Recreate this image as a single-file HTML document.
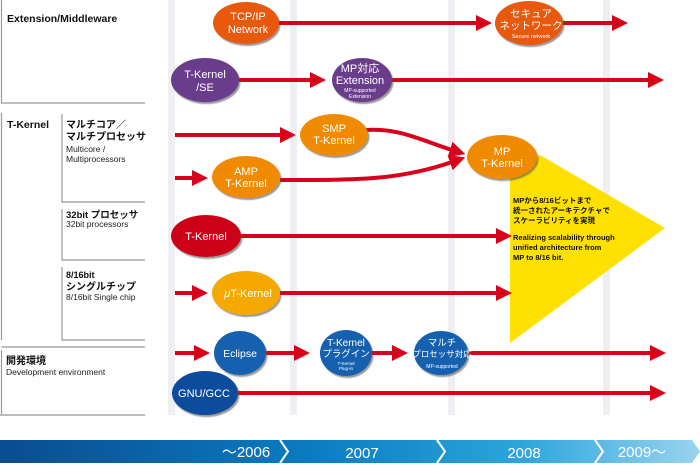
<!DOCTYPE html>
<html><head><meta charset="utf-8"><style>
html,body{margin:0;padding:0;background:#fff;width:700px;height:475px;overflow:hidden}
svg{display:block}
text{font-family:"Liberation Sans","Noto Sans CJK JP",sans-serif}
</style></head><body>
<svg width="700" height="475" viewBox="0 0 700 475" xmlns="http://www.w3.org/2000/svg">
<defs>
<linearGradient id="tl" x1="0" x2="1" y1="0" y2="0">
<stop offset="0" stop-color="#0a4c90"/><stop offset="0.45" stop-color="#0b7cc2"/><stop offset="0.75" stop-color="#2ea6dc"/><stop offset="1" stop-color="#9ad4f0"/>
</linearGradient>
<marker id="ah" markerWidth="4" markerHeight="4" refX="0.5" refY="2" orient="auto" markerUnits="strokeWidth"><path d="M0,0 L4,2 L0,4 z" fill="#d9001b"/></marker>
<filter id="sh"><feDropShadow dx="1.5" dy="2" stdDeviation="0.6" flood-color="#555" flood-opacity="0.6"/></filter>
</defs>
<g fill="#eeeff2">
<rect x="168" y="0" width="7" height="415"/><rect x="290" y="0" width="7" height="415"/>
<rect x="448" y="0" width="7" height="415"/><rect x="603" y="0" width="7" height="415"/>
</g>
<g stroke="#999" stroke-width="1.2" fill="none">
<path d="M1.5,0 V103 H145"/>
<path d="M1.5,113 V340"/>
<path d="M1.5,347 H145"/>
<path d="M1.5,350 V414"/>
<path d="M62,114 V202 H145"/>
<path d="M62,209 V260 H145"/>
<path d="M62,267 V340 H145"/>
</g>
<rect x="0" y="414" width="145" height="2" fill="#bbb"/>
<g font-weight="bold" fill="#111">
<text x="7" y="22" font-size="10.5">Extension/Middleware</text>
<text x="7" y="128" font-size="10.5">T-Kernel</text>
<text x="66" y="128" font-size="10">マルチコア／</text>
<text x="66" y="140" font-size="10">マルチプロセッサ</text>
<text x="66" y="218" font-size="9.5">32bit プロセッサ</text>
<text x="66" y="278" font-size="9">8/16bit</text>
<text x="66" y="290" font-size="10">シングルチップ</text>
<text x="6" y="364" font-size="10">開発環境</text>
</g>
<g fill="#222" font-size="8.5">
<text x="66" y="152">Multicore /</text>
<text x="66" y="162">Multiprocessors</text>
<text x="66" y="227">32bit processors</text>
<text x="66" y="300">8/16bit Single chip</text>
<text x="6" y="375">Development environment</text>
</g>
<polygon points="510,172 540,155 665,228 510,343" fill="#ffe000"/>
<g stroke="#d9001b" stroke-width="4" fill="none" marker-end="url(#ah)">
<path d="M278,23 H478"/>
<path d="M562,23 H614"/>
<path d="M238,80 H312"/>
<path d="M390,80 H650"/>
<path d="M175,135 H282"/>
<path d="M175,178 H194"/>
<path d="M366,130 C400,128 420,140 452,150"/>
<path d="M280,180 C360,180 400,180 452,162"/>
<path d="M240,236 H498"/>
<path d="M175,293 H194"/>
<path d="M280,293 H498"/>
<path d="M175,353 H196"/>
<path d="M266,353 H296"/>
<path d="M372,353 H394"/>
<path d="M467,353 H652"/>
<path d="M238,393 H652"/>
</g>
<g filter="url(#sh)">
<ellipse cx="246" cy="23" rx="33" ry="21" fill="#e8580c"/>
<ellipse cx="529" cy="23" rx="34" ry="22" fill="#e8580c"/>
<ellipse cx="205" cy="80" rx="34" ry="22" fill="#6a3d8c"/>
<ellipse cx="362" cy="80" rx="30" ry="22" fill="#6a3d8c"/>
<ellipse cx="334" cy="135" rx="34" ry="21" fill="#f08a00"/>
<ellipse cx="246" cy="177" rx="34" ry="21" fill="#f08a00"/>
<ellipse cx="502" cy="157" rx="35" ry="22" fill="#f08a00"/>
<ellipse cx="206" cy="236" rx="35" ry="21" fill="#cc0012"/>
<ellipse cx="246" cy="293" rx="34" ry="22" fill="#f5a800"/>
<ellipse cx="240" cy="353" rx="26" ry="22" fill="#1560b0"/>
<ellipse cx="346" cy="353" rx="26" ry="23" fill="#1560b0"/>
<ellipse cx="441" cy="353" rx="27" ry="22" fill="#1560b0"/>
<ellipse cx="205" cy="393" rx="33" ry="22" fill="#0d4c9c"/>
</g>
<g fill="#fff" text-anchor="middle" font-size="11">
<text x="248" y="20">TCP/IP</text><text x="248" y="33">Network</text>
<text x="531" y="17" font-size="10.5">セキュア</text><text x="531" y="29" font-size="10.5">ネットワーク</text>
<text x="531" y="38" font-size="5.5">Secure network</text>
<text x="205" y="78">T-Kernel</text><text x="205" y="91">/SE</text>
<text x="360" y="72">MP対応</text><text x="360" y="84">Extension</text>
<text x="360" y="92" font-size="5">MP-supported</text><text x="360" y="98" font-size="5">Extension</text>
<text x="334" y="132">SMP</text><text x="334" y="144">T-Kernel</text>
<text x="246" y="175">AMP</text><text x="246" y="187">T-Kernel</text>
<text x="502" y="155">MP</text><text x="502" y="167">T-Kernel</text>
<text x="206" y="240">T-Kernel</text>
<text x="248" y="297"><tspan font-style="italic">μ</tspan>T-Kernel</text>
<text x="240" y="357" font-size="10.5">Eclipse</text>
<text x="346" y="346" font-size="10">T-Kernel</text><text x="346" y="357" font-size="9.5">プラグイン</text>
<text x="346" y="365" font-size="4.5">T-Kernel</text><text x="346" y="370" font-size="4.5">Plug-in</text>
<text x="442" y="346" font-size="9.5">マルチ</text><text x="442" y="357" font-size="8.5">プロセッサ対応</text>
<text x="442" y="368" font-size="5">MP-supported</text>
<text x="204" y="397" font-size="11">GNU/GCC</text>
</g>
<g fill="#111" font-size="7.5" font-weight="bold">
<text x="513" y="203">MPから8/16ビットまで</text>
<text x="513" y="213">統一されたアーキテクチャで</text>
<text x="513" y="223">スケーラビリティを実現</text>
<text x="513" y="240">Realizing scalability through</text>
<text x="513" y="250">unified architecture from</text>
<text x="513" y="260">MP to 8/16 bit.</text>
</g>
<polygon points="0,440 692,440 700,451.5 692,463 0,463" fill="url(#tl)"/>
<g stroke="#fff" stroke-width="2" fill="none">
<path d="M280,440 L288,451.5 L280,463"/>
<path d="M437,440 L445,451.5 L437,463"/>
<path d="M595,440 L603,451.5 L595,463"/>
</g>
<g fill="#fff" font-size="15" text-anchor="middle">
<text x="246" y="457">～2006</text>
<text x="362" y="458">2007</text>
<text x="524" y="458">2008</text>
<text x="642" y="457">2009～</text>
</g>
</svg>
</body></html>
